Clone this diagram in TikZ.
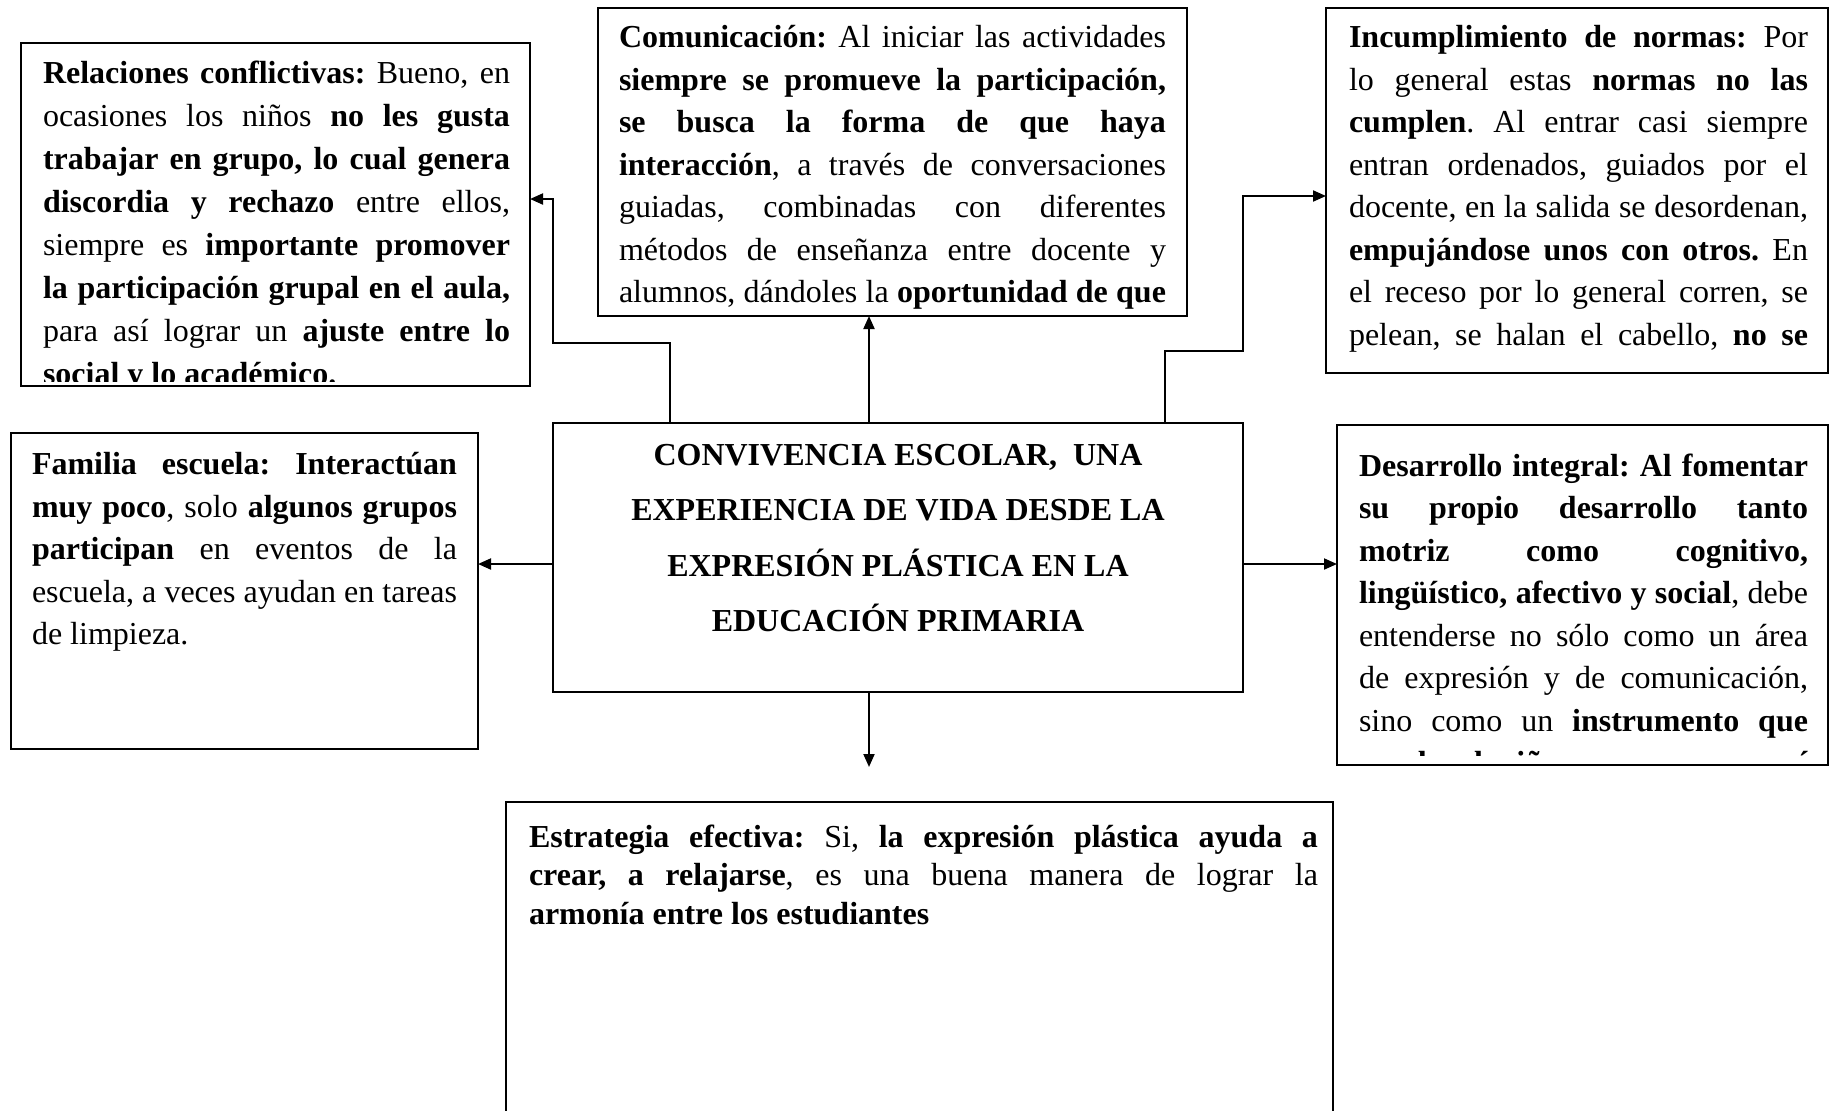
\documentclass[tikz,border=0pt]{standalone}
\usepackage{fontspec}
\setmainfont{Liberation Serif}
\usetikzlibrary{arrows.meta}
\newcommand{\jl}[1]{\makebox[\linewidth][s]{#1}}
\newcommand{\bodyfont}{\fontsize{32bp}{42.5bp}\selectfont\frenchspacing}
\begin{document}
\begin{tikzpicture}[x=1bp,y=-1bp,
  plain/.style={inner sep=0pt, outer sep=0pt},
  boxline/.style={draw=black, line width=2bp},
  framebox/.style={plain, boxline},
  txt/.style={inner sep=0pt, outer sep=0pt, anchor=base west},
  conn/.style={line width=2bp, -{Triangle[length=13bp,width=11bp]}}]
\useasboundingbox (0,0) rectangle (1834,1110);

% ---------- boxes ----------
\node[framebox, minimum width=509bp, minimum height=343bp] (rel) at (275.5,214.5) {};
\node[framebox, minimum width=589bp, minimum height=308bp] (com) at (892.5,162) {};
\node[framebox, minimum width=502bp, minimum height=365bp] (inc) at (1577,190.5) {};
\node[framebox, minimum width=690bp, minimum height=269bp] (cen) at (898,557.5) {};
\node[framebox, minimum width=467bp, minimum height=316bp] (fam) at (244.5,591) {};
\node[framebox, minimum width=491bp, minimum height=340bp] (des) at (1582.5,595) {};
\node[plain, minimum width=827bp, minimum height=312bp] (est) at (919.5,958) {};
\draw[boxline] (est.south west) -- (est.north west) -- (est.north east) -- (est.south east);

% ---------- texts ----------
\begin{scope}
\clip (rel.north west) rectangle ([yshift=5bp]rel.south east);
\node[txt] (reltxt) at (43,83) {\parbox[t]{467bp}{\bodyfont\baselineskip=43bp
\jl{\textbf{Relaciones conflictivas:} Bueno, en}\\
\jl{ocasiones los niños \textbf{no les gusta}}\\
\jl{\textbf{trabajar en grupo, lo cual genera}}\\
\jl{\textbf{discordia y rechazo} entre ellos,}\\
\jl{siempre es \textbf{importante promover}}\\
\jl{\textbf{la participación grupal en el aula,}}\\
\jl{para así lograr un \textbf{ajuste entre lo}}\\
\textbf{social y lo académico.}}};
\end{scope}

\begin{scope}
\clip (com.south west) rectangle (com.north east);
\node[txt] (comtxt) at (619,47.5) {\parbox[t]{547bp}{\bodyfont
\jl{\textbf{Comunicación:} Al iniciar las actividades}\\
\jl{\textbf{siempre se promueve la participación,}}\\
\jl{\textbf{se busca la forma de que haya}}\\
\jl{\textbf{interacción}, a través de conversaciones}\\
\jl{guiadas, combinadas con diferentes}\\
\jl{métodos de enseñanza entre docente y}\\
\jl{alumnos, dándoles la \textbf{oportunidad de que}}}};
\end{scope}

\begin{scope}
\clip (inc.south west) rectangle (inc.north east);
\node[txt] (inctxt) at (1349,47.5) {\parbox[t]{459bp}{\bodyfont
\jl{\textbf{Incumplimiento de normas:} Por}\\
\jl{lo general estas \textbf{normas no las}}\\
\jl{\textbf{cumplen}. Al entrar casi siempre}\\
\jl{entran ordenados, guiados por el}\\
\jl{docente, en la salida se desordenan,}\\
\jl{\textbf{empujándose unos con otros.} En}\\
\jl{el receso por lo general corren, se}\\
\jl{pelean, se halan el cabello, \textbf{no se}}}};
\end{scope}

\node[txt] (ttl) at (553,465) {\parbox[t]{690bp}{\centering\bfseries\fontsize{32bp}{55.5bp}\selectfont
CONVIVENCIA ESCOLAR,\ \ UNA\\
EXPERIENCIA DE VIDA DESDE LA\\
EXPRESIÓN PLÁSTICA EN LA\\
EDUCACIÓN PRIMARIA}};

\node[txt] (famtxt) at (32,474.5) {\parbox[t]{425bp}{\bodyfont
\jl{\textbf{Familia escuela: Interactúan}}\\
\jl{\textbf{muy poco}, solo \textbf{algunos grupos}}\\
\jl{\textbf{participan} en eventos de la}\\
\jl{escuela, a veces ayudan en tareas}\\
de limpieza.}};

\begin{scope}
\clip (des.north west) rectangle ([yshift=10bp]des.south east);
\node[txt] (destxt) at (1359,476) {\parbox[t]{449bp}{\bodyfont
\jl{\textbf{Desarrollo integral: Al fomentar}}\\
\jl{\textbf{su propio desarrollo tanto}}\\
\jl{\textbf{motriz como cognitivo,}}\\
\jl{\textbf{lingüístico, afectivo y social}, debe}\\
\jl{entenderse no sólo como un área}\\
\jl{de expresión y de comunicación,}\\
\jl{sino como un \textbf{instrumento que}}\\
\jl{\textbf{ayuda al niño a conocerse a sí}}}};
\end{scope}

\node[txt] (esttxt) at (529,847) {\parbox[t]{789bp}{\fontsize{32bp}{38.5bp}\selectfont\frenchspacing
\jl{\textbf{Estrategia efectiva:} Si, \textbf{la expresión plástica ayuda a}}\\
\jl{\textbf{crear, a relajarse}, es una buena manera de lograr la}\\
\textbf{armonía entre los estudiantes}}};

% ---------- connectors ----------
\coordinate (r1) at (670,343);
\coordinate (r2) at (553,199);
\draw[conn] (cen.north -| r1) -- (r1) -| (r2) -- (rel.east |- r2);

\coordinate (i1) at (1165,351);
\coordinate (i2) at (1243,196);
\draw[conn] (cen.north -| i1) -- (i1) -| (i2) -- (inc.west |- i2);

\coordinate (c1) at (869,0);
\draw[conn] (cen.north -| c1) -- (com.south -| c1);

\coordinate (m1) at (0,564);
\draw[conn] (cen.west |- m1) -- (fam.east |- m1);
\draw[conn] (cen.east |- m1) -- (des.west |- m1);

\coordinate (d1) at (869,767);
\draw[conn] (cen.south -| d1) -- (d1);
\end{tikzpicture}
\end{document}
